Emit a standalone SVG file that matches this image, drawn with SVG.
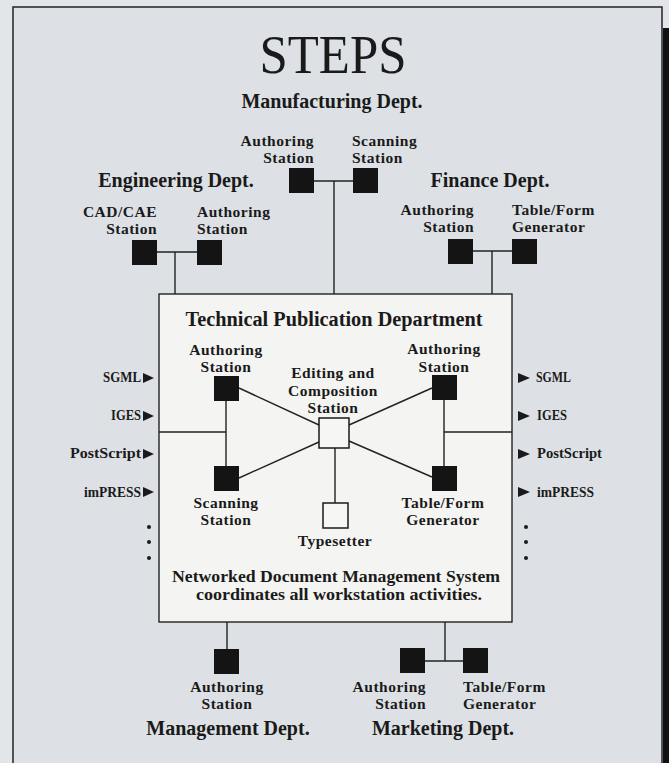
<svg xmlns="http://www.w3.org/2000/svg" width="669" height="763" viewBox="0 0 669 763">
<style>
text{font-family:"Liberation Serif","Times New Roman",serif;fill:#1a1a1a;font-weight:bold}
.st{font-size:15.5px;letter-spacing:0.5px}
.dp{font-size:20px}
.sm{font-size:14px}
.mid{text-anchor:middle}
.end{text-anchor:end}
.ln{stroke:#222;stroke-width:1.4;fill:none}
.blk{fill:#141414}
.opn{fill:#f6f6f4;stroke:#1a1a1a;stroke-width:1.5}
.tri{fill:#1a1a1a}
</style>
<rect width="669" height="763" fill="#e3e6e8"/>
<rect x="13" y="7" width="649" height="800" fill="#dde1e5" stroke="#222" stroke-width="1.5"/>
<rect x="663" y="28" width="6" height="735" fill="#111"/>
<text x="333" y="73" class="mid" style="font-size:54px;font-weight:normal" textLength="147" lengthAdjust="spacingAndGlyphs">STEPS</text>

<g id="tpd">
<rect x="159" y="294" width="353" height="328" fill="#f4f4f2" stroke="#222" stroke-width="1.4"/>
<text x="334" y="326" class="dp mid" textLength="297" lengthAdjust="spacingAndGlyphs">Technical Publication Department</text>
<text x="336" y="582" class="mid" style="font-size:16px" textLength="328" lengthAdjust="spacingAndGlyphs">Networked Document Management System</text>
<text x="339" y="600" class="mid" style="font-size:16px" textLength="286" lengthAdjust="spacingAndGlyphs">coordinates all workstation activities.</text>
</g>

<g id="connectors">
<path class="ln" d="M157 252H197M175 252V294"/>
<path class="ln" d="M314 181H353M334 181V294"/>
<path class="ln" d="M473 251H512M492 251V294"/>
<path class="ln" d="M239 388L319 425M239 478L319 442M349 425L432 388M349 441L432 477"/>
<path class="ln" d="M226 401V466M444 400V466M159 432H226M444 432H512M335 448V503"/>
<path class="ln" d="M227 622V649M445 622V661M425 661H463"/>
</g>

<g id="eng-dept"><text x="176" y="187" class="dp mid">Engineering Dept.</text></g>
<g id="eng-cad">
<rect class="blk" x="132" y="240" width="25" height="25"/>
<text x="157" y="216.5" class="st end">CAD/CAE</text><text x="157" y="234" class="st end">Station</text>
</g>
<g id="eng-auth">
<rect class="blk" x="197" y="240" width="25" height="25"/>
<text x="197" y="216.5" class="st">Authoring</text><text x="197" y="234" class="st">Station</text>
</g>

<g id="mfg-dept"><text x="332" y="108" class="dp mid">Manufacturing Dept.</text></g>
<g id="mfg-auth">
<rect class="blk" x="289" y="168" width="25" height="25"/>
<text x="314" y="145.5" class="st end">Authoring</text><text x="314" y="163" class="st end">Station</text>
</g>
<g id="mfg-scan">
<rect class="blk" x="353" y="168" width="25" height="25"/>
<text x="352" y="145.5" class="st">Scanning</text><text x="352" y="163" class="st">Station</text>
</g>

<g id="fin-dept"><text x="490" y="187" class="dp mid">Finance Dept.</text></g>
<g id="fin-auth">
<rect class="blk" x="448" y="239" width="25" height="25"/>
<text x="474" y="214.5" class="st end">Authoring</text><text x="474" y="232" class="st end">Station</text>
</g>
<g id="fin-table">
<rect class="blk" x="512" y="239" width="25" height="25"/>
<text x="512" y="214.5" class="st">Table/Form</text><text x="512" y="232" class="st">Generator</text>
</g>

<g id="tpd-auth-left">
<rect class="blk" x="214" y="376" width="25" height="25"/>
<text x="226" y="354.5" class="st mid">Authoring</text><text x="226" y="372" class="st mid">Station</text>
</g>
<g id="tpd-auth-right">
<rect class="blk" x="432" y="375" width="25" height="25"/>
<text x="444" y="354" class="st mid">Authoring</text><text x="444" y="371.5" class="st mid">Station</text>
</g>
<g id="tpd-edit">
<rect class="opn" x="319" y="418" width="30" height="30"/>
<text x="333" y="378" class="st mid">Editing and</text><text x="333" y="395.5" class="st mid">Composition</text><text x="333" y="413" class="st mid">Station</text>
</g>
<g id="tpd-scan">
<rect class="blk" x="214" y="466" width="25" height="25"/>
<text x="226" y="507.5" class="st mid">Scanning</text><text x="226" y="525" class="st mid">Station</text>
</g>
<g id="tpd-table">
<rect class="blk" x="432" y="466" width="25" height="25"/>
<text x="443" y="507.5" class="st mid">Table/Form</text><text x="443" y="525" class="st mid">Generator</text>
</g>
<g id="tpd-typesetter">
<rect class="opn" x="323" y="503" width="25" height="25"/>
<text x="335" y="546" class="st mid">Typesetter</text>
</g>

<g id="inputs-left">
<text x="141" y="382" class="sm end" textLength="38" lengthAdjust="spacingAndGlyphs">SGML</text>
<text x="141" y="420" class="sm end" textLength="30" lengthAdjust="spacingAndGlyphs">IGES</text>
<text x="141" y="458" class="sm end" textLength="71" lengthAdjust="spacingAndGlyphs">PostScript</text>
<text x="141" y="497" class="sm end" textLength="57" lengthAdjust="spacingAndGlyphs">imPRESS</text>
<path class="tri" d="M143 373L154 378L143 383ZM143 411L154 416L143 421ZM143 449L154 454L143 459ZM143 487L154 492L143 497Z"/>
<circle cx="149" cy="527" r="2" fill="#1a1a1a"/><circle cx="149" cy="542" r="2" fill="#1a1a1a"/><circle cx="149" cy="558" r="2" fill="#1a1a1a"/>
</g>
<g id="outputs-right">
<path class="tri" d="M518 373L530 378L518 383ZM518 411L530 416L518 421ZM518 449L530 454L518 459ZM518 487L530 492L518 497Z"/>
<text x="536" y="382" class="sm" textLength="35" lengthAdjust="spacingAndGlyphs">SGML</text>
<text x="537" y="420" class="sm" textLength="30" lengthAdjust="spacingAndGlyphs">IGES</text>
<text x="537" y="458" class="sm" textLength="65" lengthAdjust="spacingAndGlyphs">PostScript</text>
<text x="537" y="497" class="sm" textLength="57" lengthAdjust="spacingAndGlyphs">imPRESS</text>
<circle cx="526" cy="527" r="2" fill="#1a1a1a"/><circle cx="526" cy="542" r="2" fill="#1a1a1a"/><circle cx="526" cy="558" r="2" fill="#1a1a1a"/>
</g>

<g id="mgmt-auth">
<rect class="blk" x="214" y="649" width="25" height="25"/>
<text x="227" y="691.5" class="st mid">Authoring</text><text x="227" y="709" class="st mid">Station</text>
</g>
<g id="mgmt-dept"><text x="228" y="735" class="dp mid">Management Dept.</text></g>

<g id="mkt-auth">
<rect class="blk" x="400" y="648" width="25" height="25"/>
<text x="426" y="691.5" class="st end">Authoring</text><text x="426" y="709" class="st end">Station</text>
</g>
<g id="mkt-table">
<rect class="blk" x="463" y="648" width="25" height="25"/>
<text x="463" y="691.5" class="st">Table/Form</text><text x="463" y="709" class="st">Generator</text>
</g>
<g id="mkt-dept"><text x="443" y="735" class="dp mid">Marketing Dept.</text></g>
</svg>
